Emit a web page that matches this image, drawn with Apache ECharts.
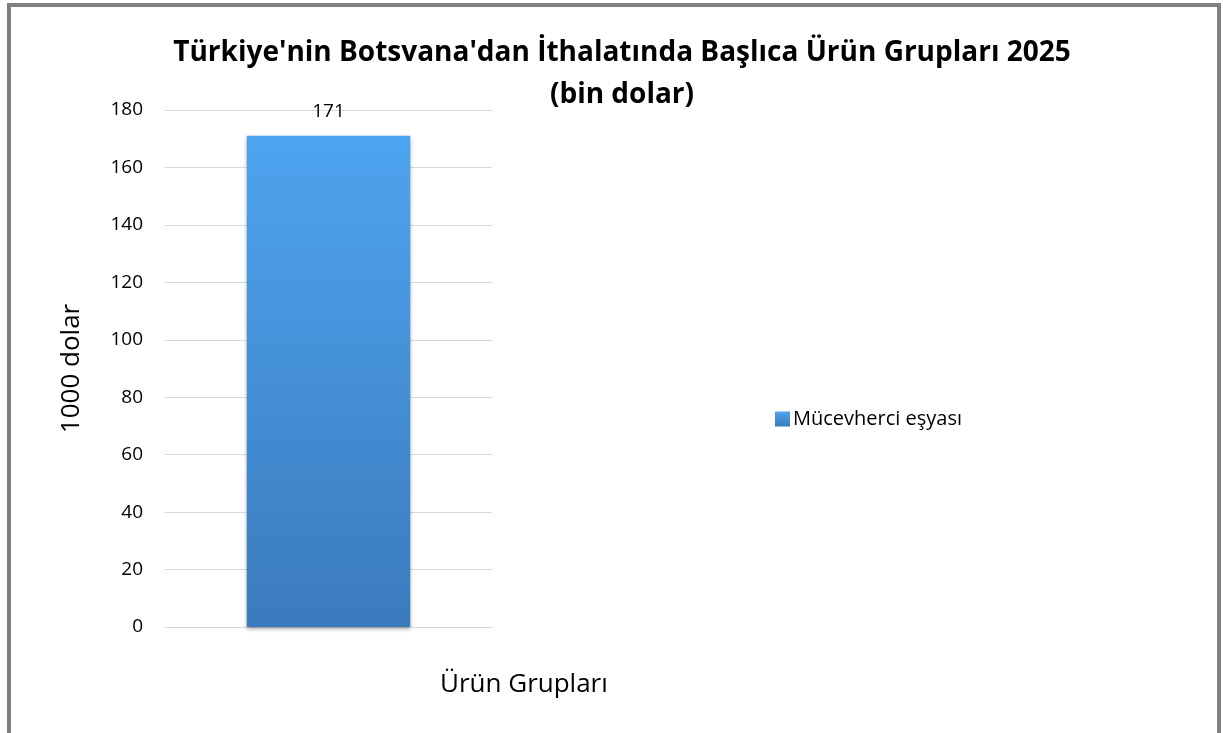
<!DOCTYPE html>
<html>
<head>
<meta charset="utf-8">
<script src="https://cdn.jsdelivr.net/npm/echarts@6/dist/echarts.min.js"></script>
<style>
  html, body { margin: 0; padding: 0; background: #fff; }
  #frame {
    position: absolute; left: 7px; top: 3px; width: 1206px; height: 730px;
    border-left: 4px solid #808080; border-top: 4px solid #808080; border-right: 4px solid #808080;
  }
  #main { position: absolute; left: 0; top: 0; width: 1223px; height: 733px; }
</style>
</head>
<body>
<div id="frame"></div>
<div id="main"></div>
<script>
    // veriler
    var categories = ['Ürün Grupları'];
    var seriesName = 'Mücevherci eşyası';
    var values = [171];
    var yTicks = { min: 0, max: 180, interval: 20 };

    var font = '"Open Sans", "Noto Sans", sans-serif';
    var myChart = echarts.init(document.getElementById('main'));

    var barColor = new echarts.graphic.LinearGradient(0, 0, 0, 1, [
        { offset: 0, color: '#4ea4ef' },
        { offset: 1, color: '#3b7bbd' }
    ]);

    var option = {
        animation: false,
        title: {
            text: "Türkiye'nin Botsvana'dan İthalatında Başlıca Ürün Grupları 2025\n(bin dolar)",
            left: 617,
            top: 27,
            textAlign: 'center',
            textStyle: { fontFamily: font, fontWeight: 'bold', fontSize: 28, lineHeight: 42, color: '#000' }
        },
        legend: {
            data: [{ name: seriesName, icon: 'rect' }],
            left: 770,
            top: 404,
            itemWidth: 15,
            itemHeight: 15,
            itemGap: 5,
            textStyle: { fontFamily: font, fontSize: 20, color: '#000', padding: [0, 0, 0, -2] }
        },
        grid: { left: 165, right: 731, top: 110, bottom: 106 },
        xAxis: {
            type: 'category',
            data: categories,
            axisLine: { show: true, lineStyle: { color: '#d9d9d9', width: 1 } },
            axisTick: { show: false },
            axisLabel: { show: false }
        },
        yAxis: {
            type: 'value',
            min: yTicks.min,
            max: yTicks.max,
            interval: yTicks.interval,
            name: '1000 dolar',
            nameLocation: 'middle',
            nameGap: 80,
            nameTextStyle: { fontFamily: font, fontSize: 26, color: '#000' },
            axisLine: { show: false },
            axisTick: { show: false },
            axisLabel: { fontFamily: font, fontSize: 19, color: '#000', margin: 22 },
            splitLine: { lineStyle: { color: '#d9d9d9', width: 1 } }
        },
        graphic: [{
            type: 'text',
            left: 440,
            top: 672,
            style: { text: categories[0], font: '26px ' + font, fill: '#000' }
        }],
        series: [{
            name: seriesName,
            type: 'bar',
            data: values,
            barWidth: '50%',
            itemStyle: {
                color: barColor,
                shadowColor: 'rgba(0,0,0,0.35)',
                shadowBlur: 4,
                shadowOffsetY: 2
            },
            label: {
                show: true,
                position: 'top',
                distance: 15,
                fontFamily: font,
                fontSize: 19,
                color: '#000'
            }
        }]
    };

    myChart.setOption(option);
</script>
</body>
</html>
